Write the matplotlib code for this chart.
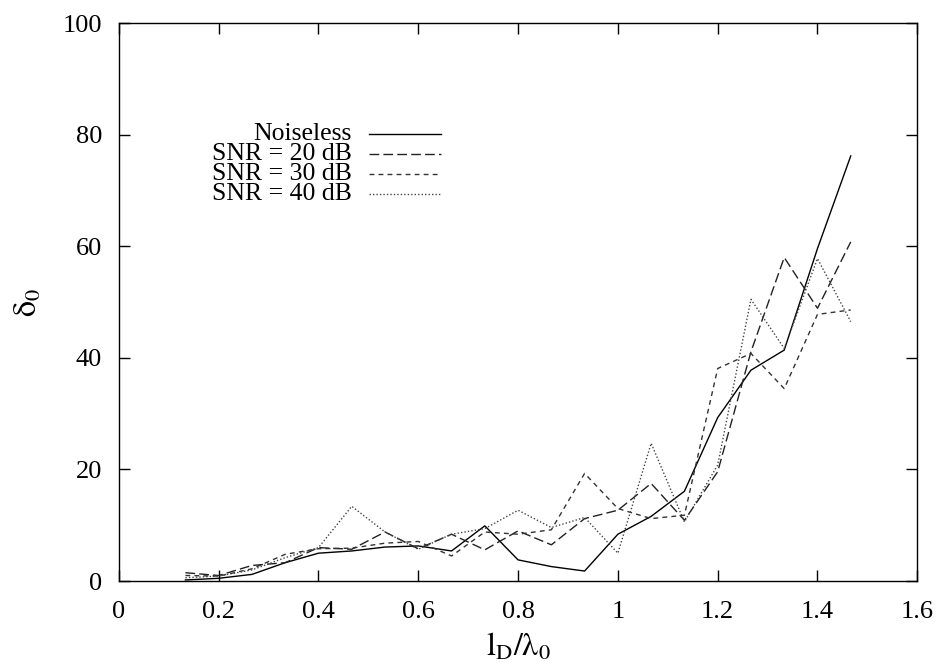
import numpy as np
import matplotlib
matplotlib.use("Agg")
import matplotlib.pyplot as plt

plt.rcParams['font.family'] = ['Liberation Serif', 'DejaVu Serif']
plt.rcParams['mathtext.fontset'] = 'stix'

# l_D / lambda_0 sampled at n/15
ld = np.arange(2, 23) / 15.0

noiseless = [0.2, 0.5, 1.2, 3.3, 5.0, 5.4, 6.1, 6.3, 5.4, 9.9, 3.8,
             2.6, 1.8, 8.4, 11.6, 16.1, 29.3, 37.8, 41.4, 59.6, 76.2]
snr20 = [1.5, 1.0, 2.8, 3.3, 6.0, 5.7, 8.8, 5.8, 8.4, 5.6, 9.0,
         6.5, 11.2, 12.7, 17.5, 10.9, 19.6, 41.1, 58.0, 48.9, 60.8]
snr30 = [1.0, 0.9, 2.2, 4.8, 5.8, 5.9, 6.8, 7.1, 4.5, 8.8, 8.4,
         9.2, 19.3, 13.0, 11.2, 11.8, 38.1, 40.8, 34.5, 47.8, 48.6]
snr40 = [0.6, 0.9, 2.0, 4.2, 6.0, 13.4, 8.8, 5.7, 8.4, 9.4, 12.7,
         9.6, 11.4, 5.0, 24.7, 10.6, 20.8, 50.5, 41.7, 57.8, 46.5]

labels = ["Noiseless", "SNR = 20 dB", "SNR = 30 dB", "SNR = 40 dB"]
series = [noiseless, snr20, snr30, snr40]
styles = [dict(color='black', ls='-'),
          dict(color='#222222', ls=(0, (7, 3))),
          dict(color='#333333', ls=(0, (3.5, 3))),
          dict(color='#444444', ls=(0, (1, 1.5)))]

fig = plt.figure(figsize=(9.36, 6.71), dpi=100)
ax = fig.add_axes([0.127, 0.134, 0.853, 0.8315])

for y, st in zip(series, styles):
    ax.plot(ld, y, lw=1.0, **st)

# gnuplot style key: right-aligned text, sample line on the right
key_y = [0.801, 0.765, 0.729, 0.6935]
for lab, st, ky in zip(labels, styles, key_y):
    ax.text(0.292, ky, lab, transform=ax.transAxes, ha='right', va='center', fontsize=18.5)
    ax.plot([0.3133, 0.4035], [ky, ky], transform=ax.transAxes, lw=1.0, **st)

ax.set_xlim(0, 1.6)
ax.set_ylim(0, 100)
ax.set_xticks(np.arange(0, 1.61, 0.2))
ax.set_xticklabels(['0', '0.2', '0.4', '0.6', '0.8', '1', '1.2', '1.4', '1.6'])
ax.set_yticks(np.arange(0, 101, 20))
ax.tick_params(direction='in', length=8, width=1, top=True, right=True, labelsize=19)
ax.tick_params(axis='x', pad=14)
ax.tick_params(axis='y', pad=12)
for s in ax.spines.values():
    s.set_linewidth(1.0)

ax.set_xlabel(r'$\mathrm{l_D/\lambda_0}$', fontsize=23, labelpad=6)
ax.set_ylabel(r'$\mathrm{\delta_0}$', fontsize=23, labelpad=14)

fig.savefig("out.png", dpi=100)
